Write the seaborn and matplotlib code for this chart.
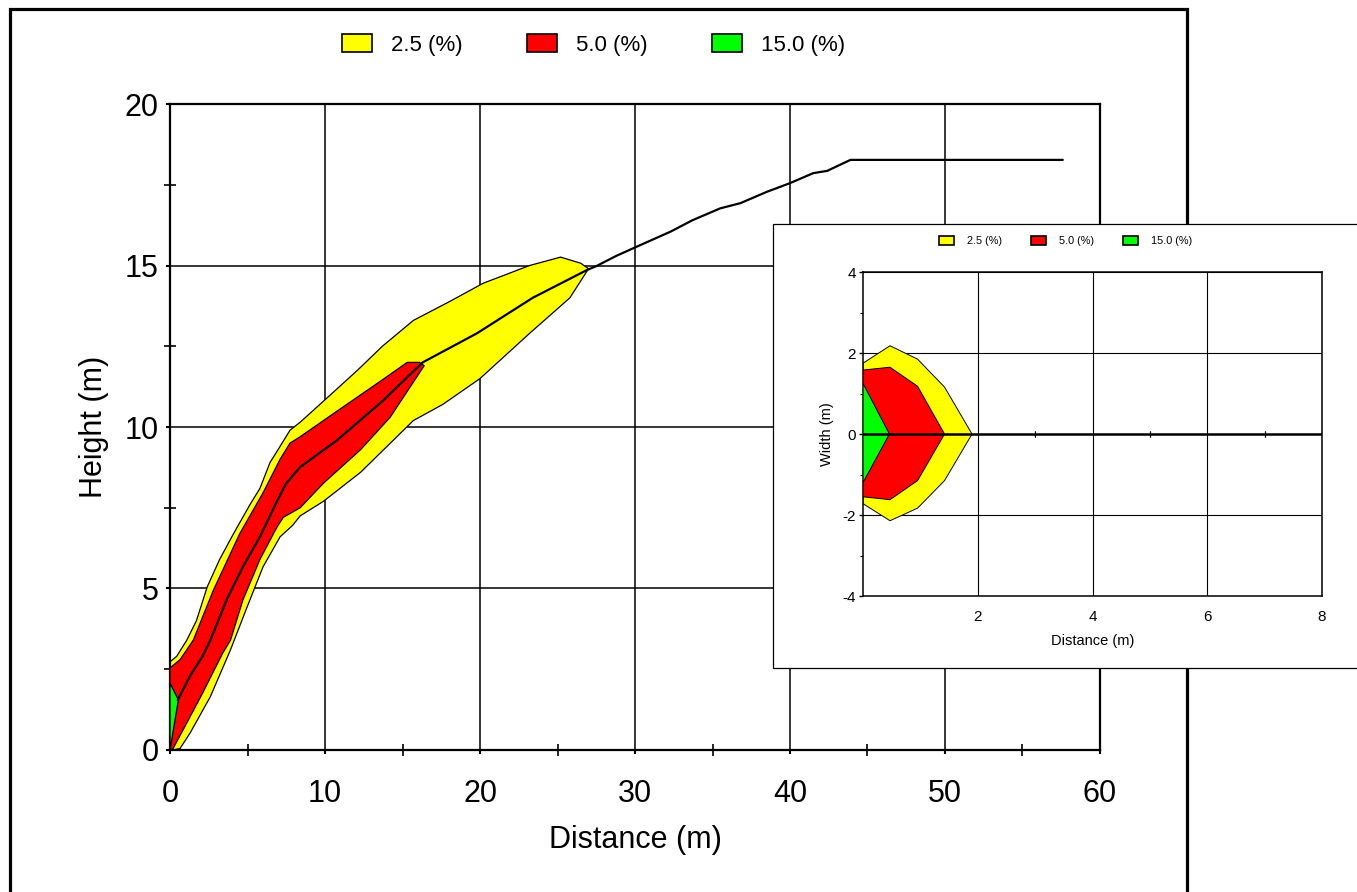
import matplotlib
matplotlib.use("Agg")
import matplotlib.pyplot as plt
import numpy as np
import pandas as pd
import seaborn as sns
from matplotlib.patches import Patch, Rectangle

# main chart (side view)
yel_up_x = [0, 0.43, 1.08, 1.7, 2.4, 3.2, 4.1, 5.16, 5.8, 6.45, 7.1, 7.74, 8.4, 9.9, 12.1, 13.7, 15.7, 18.1, 20.2, 23.2, 25.2, 26.5, 27.0]
yel_up_y = [2.73, 2.9, 3.4, 4.0, 5.05, 5.9, 6.7, 7.6, 8.1, 8.9, 9.4, 9.9, 10.15, 10.8, 11.76, 12.5, 13.3, 13.9, 14.45, 15.0, 15.26, 15.07, 14.9]
yel_lo_x = [0, 0.2, 0.65, 1.3, 2.6, 3.9, 4.95, 6.0, 7.1, 7.9, 8.4, 9.9, 12.3, 15.7, 17.6, 20.0, 23.2, 25.8, 27.0]
yel_lo_y = [0, 0, 0.05, 0.53, 1.65, 3.1, 4.4, 5.67, 6.6, 6.95, 7.25, 7.7, 8.6, 10.2, 10.7, 11.5, 12.9, 14.0, 14.9]

red_up_x = [0, 0.65, 1.5, 2.8, 4.5, 6.0, 7.1, 7.74, 8.4, 10.5, 13.7, 15.3, 16.1, 16.4]
red_up_y = [2.54, 2.8, 3.4, 4.95, 6.7, 7.96, 9.0, 9.5, 9.7, 10.4, 11.46, 12.0, 12.0, 11.9]
red_lo_x = [0, 0.2, 0.84, 2.1, 3.4, 3.9, 4.7, 5.8, 6.9, 7.3, 8.4, 9.9, 12.3, 14.2, 15.3, 16.4]
red_lo_y = [0, 0.05, 0.62, 1.76, 3.0, 3.4, 4.64, 5.9, 6.9, 7.2, 7.5, 8.26, 9.3, 10.3, 11.1, 11.9]

grn_x = [0, 0, 0.54]
grn_y = [0, 2.07, 1.55]

path_x = [0.5, 1.3, 2.1, 2.6, 3.7, 4.7, 5.8, 6.9, 7.5, 8.4, 10.8, 13.7, 16.3, 19.8, 23.4, 26.9, 27.5, 28.8, 30.1,
          32.3, 33.7, 35.5, 36.8, 38.5, 40.0, 41.5, 42.4, 43.9, 57.6]
path_y = [1.55, 2.3, 2.9, 3.4, 4.7, 5.67, 6.6, 7.7, 8.26, 8.76, 9.6, 10.8, 12.0, 12.9, 14.0, 14.86, 14.98, 15.3, 15.58,
          16.05, 16.4, 16.77, 16.93, 17.28, 17.55, 17.86, 17.93, 18.27, 18.27]

# inset (top view)
in_yel_x = [0, 0.47, 0.95, 1.42, 1.90, 1.42, 0.95, 0.47, 0]
in_yel_y = [1.75, 2.18, 1.85, 1.16, 0, -1.15, -1.83, -2.14, -1.72]
in_red_x = [0, 0.47, 0.95, 1.42, 0.95, 0.47, 0]
in_red_y = [1.58, 1.65, 1.18, 0, -1.15, -1.62, -1.55]
in_grn_x = [0, 0.46, 0]
in_grn_y = [1.25, 0, -1.2]
in_path_x = [0, 8]
in_path_y = [0, 0]

levels = ["2.5 (%)", "5.0 (%)", "15.0 (%)"]
colors = ["#ffff00", "#ff0000", "#00ff00"]

sns.set_theme(style="white")
plt.rcParams["font.family"] = ["Liberation Sans", "DejaVu Sans"]
plt.rcParams["axes.unicode_minus"] = False
for k in ["text.color", "axes.labelcolor", "xtick.color", "ytick.color"]:
    plt.rcParams[k] = "black"

fig = plt.figure(figsize=(13.57, 8.92), dpi=100)

# ---- main axes
ax = fig.add_axes([0.1253, 0.1592, 0.6853, 0.7242], zorder=0)
ax.fill(yel_up_x + yel_lo_x[::-1], yel_up_y + yel_lo_y[::-1], facecolor=colors[0], edgecolor="black", lw=0.9, zorder=2)
ax.fill(red_up_x + red_lo_x[::-1], red_up_y + red_lo_y[::-1], facecolor=colors[1], edgecolor="black", lw=0.9, zorder=3)
ax.fill(grn_x, grn_y, facecolor=colors[2], edgecolor="black", lw=0.9, zorder=4)
df = pd.DataFrame({"x": path_x, "y": path_y})
sns.lineplot(data=df, x="x", y="y", sort=False, estimator=None, color="black", lw=1.6, ax=ax, zorder=5)

ax.set_xlim(0, 60)
ax.set_ylim(0, 20)
ax.set_xticks(range(0, 61, 10))
ax.set_xticks(range(5, 60, 10), minor=True)
ax.set_yticks(range(0, 21, 5))
ax.set_yticks([2.5, 7.5, 12.5, 17.5], minor=True)
ax.grid(True, which="major", color="black", lw=1.1)
ax.set_axisbelow(True)
for s in ax.spines.values():
    s.set_color("black")
    s.set_linewidth(1.6)
ax.tick_params(which="both", bottom=True, left=True)
ax.tick_params(which="major", direction="out", length=3, width=1.5, labelsize=22)
ax.tick_params(axis="x", which="major", pad=18)
ax.tick_params(axis="y", which="major", pad=5)
ax.tick_params(which="minor", direction="inout", length=8, width=1.2)
ax.set_xlabel("Distance (m)", fontsize=22)
ax.set_ylabel("Height (m)", fontsize=22)
ax.xaxis.set_label_coords(0.5, -0.116)
ax.yaxis.set_label_coords(-0.066, 0.5)

h = [Patch(facecolor=c, edgecolor="black", lw=1.2, label=l) for c, l in zip(colors, levels)]
fig.legend(handles=h, loc="center", bbox_to_anchor=(0.4377, 0.9496), ncol=3, frameon=False, fontsize=16,
           handlelength=1.35, handleheight=0.9, handletextpad=0.85, columnspacing=2.9)

# outer frame
fig.add_artist(Rectangle((0.0074, -0.02), 0.8673, 1.0099, transform=fig.transFigure, fill=False,
                         edgecolor="black", lw=2.3, zorder=0.5))
# inset box
fig.add_artist(Rectangle((0.5696, 0.2511), 0.45, 0.4978, transform=fig.transFigure, facecolor="white",
                         edgecolor="black", lw=0.9, zorder=1))

# ---- inset axes
ax2 = fig.add_axes([0.636, 0.3318, 0.3382, 0.3632], zorder=2)
ax2.fill(in_yel_x, in_yel_y, facecolor=colors[0], edgecolor="black", lw=0.7, zorder=2)
ax2.fill(in_red_x, in_red_y, facecolor=colors[1], edgecolor="black", lw=0.7, zorder=3)
ax2.fill(in_grn_x, in_grn_y, facecolor=colors[2], edgecolor="black", lw=0.7, zorder=4)
sns.lineplot(x=in_path_x, y=in_path_y, color="black", lw=1.8, ax=ax2, zorder=5)
ax2.set_xlim(0, 8)
ax2.set_ylim(-4, 4)
ax2.set_xticks([2, 4, 6, 8])
ax2.set_yticks([-4, -2, 0, 2, 4])
ax2.set_yticks([-3, -1, 1, 3], minor=True)
ax2.grid(True, which="major", color="black", lw=0.8)
ax2.set_axisbelow(True)
for s in ax2.spines.values():
    s.set_color("black")
    s.set_linewidth(1.1)
ax2.tick_params(axis="y", which="both", left=True)
ax2.tick_params(axis="x", which="major", length=0, pad=10, labelsize=11)
ax2.tick_params(axis="y", which="major", direction="out", length=3, width=1, pad=2, labelsize=11)
ax2.tick_params(axis="y", which="minor", direction="out", length=2.5, width=0.8)
sec = ax2.secondary_xaxis(0.5)
for s in sec.spines.values():
    s.set_visible(False)
sec.set_xticks([1, 3, 5, 7])
sec.tick_params(which="both", direction="inout", length=5, width=0.8, top=True, bottom=True,
                labeltop=False, labelbottom=False)
ax2.set_xlabel("Distance (m)", fontsize=10.5)
ax2.set_ylabel("Width (m)", fontsize=10.5)
ax2.xaxis.set_label_coords(0.5, -0.117)
ax2.yaxis.set_label_coords(-0.063, 0.5)

fig.legend(handles=h, loc="center", bbox_to_anchor=(0.7853, 0.7298), ncol=3, frameon=False, fontsize=7.8,
           handlelength=1.39, handleheight=1.0, handletextpad=1.2, columnspacing=2.7)

fig.savefig("out.png", dpi=100)
